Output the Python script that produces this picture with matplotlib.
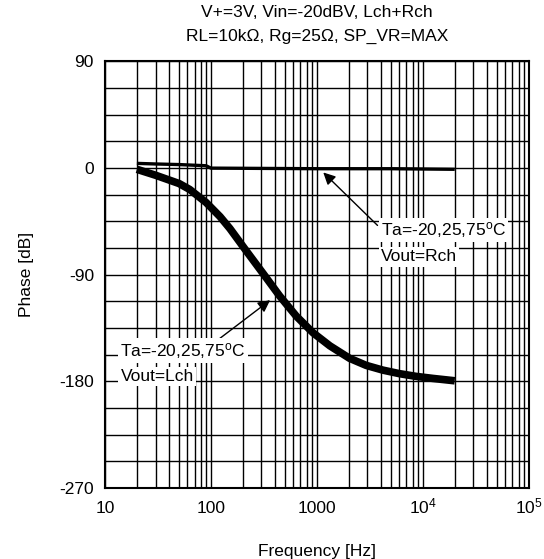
import matplotlib
matplotlib.use('Agg')
import matplotlib.pyplot as plt
import numpy as np
from matplotlib.ticker import FixedLocator, FixedFormatter, NullFormatter

plt.rcParams['font.family'] = ['Liberation Sans', 'DejaVu Sans']
plt.rcParams['mathtext.fontset'] = 'custom'
plt.rcParams['mathtext.rm'] = 'Liberation Sans'
plt.rcParams['mathtext.it'] = 'Liberation Sans'
plt.rcParams['axes.unicode_minus'] = False

# Lch phase (thick band, all three temperatures overlap)
f_lch = [20, 30, 50, 63, 90, 122, 151, 216, 311, 446, 640, 920, 1326,
         2033, 2920, 4196, 6030, 8664, 12450, 20000]
ph_lch = [-1, -6, -13, -18, -29, -41, -51, -70, -89, -108, -125, -139, -150,
          -160.5, -166.5, -170.5, -173.5, -175.8, -177.5, -179.5]

# Rch phase
f_rch = [20, 30, 50, 90, 100, 1000, 5000, 20000]
ph_rch = [4, 3.5, 3, 2, 0, -0.5, -0.5, -1]

x_ticks = [10, 100, 1000, 1e4, 1e5]
x_labels = ['10', '100', '1000', '$10^4$', '$10^5$']
y_ticks = [90, 0, -90, -180, -270]

fig = plt.figure(figsize=(5.44, 5.59), dpi=100)
ax = fig.add_axes([0.193, 0.127, 0.779, 0.763])

ax.plot(f_rch, ph_rch, color='black', linewidth=2.4, solid_capstyle='butt')
ax.plot(f_lch, ph_lch, color='black', linewidth=5.5, solid_capstyle='butt',
        solid_joinstyle='round')

ax.set_xscale('log')
ax.set_xlim(10, 1e5)
ax.set_ylim(-270, 90)

ax.xaxis.set_major_locator(FixedLocator(x_ticks))
ax.xaxis.set_major_formatter(FixedFormatter(x_labels))
minors = [m * 10 ** d for d in range(1, 5) for m in range(2, 10)]
ax.xaxis.set_minor_locator(FixedLocator(minors))
ax.xaxis.set_minor_formatter(NullFormatter())
ax.set_yticks(y_ticks)
ax.set_yticks(np.arange(-270, 91, 22.5), minor=True)

ax.grid(True, which='both', color='black', linewidth=1.0)
ax.set_axisbelow(True)
ax.tick_params(which='both', length=0, labelsize=12.5, pad=8)
ax.tick_params(axis='x', pad=18)
for lbl in ax.get_xticklabels():
    lbl.set_verticalalignment('baseline')
for s in ax.spines.values():
    s.set_linewidth(1.5)

ax.set_xlabel('Frequency [Hz]', fontsize=12.5, labelpad=20)
ax.set_ylabel('Phase [dB]', fontsize=12.5, labelpad=18)

fig.text(0.583, 0.978, 'V+=3V, Vin=-20dBV, Lch+Rch', ha='center', va='center', fontsize=12.5)
fig.text(0.583, 0.935, 'RL=10k\u03a9, Rg=25\u03a9, SP_VR=MAX', ha='center', va='center', fontsize=12.5)

box = dict(facecolor='white', edgecolor='none', pad=1.5)
arrow = dict(arrowstyle='-|>', color='black', linewidth=1.0, mutation_scale=18)

# Rch label
ax.annotate('', xy=(1100, -2), xytext=(3900, -50), arrowprops=arrow)
ax.text(4000, -52, 'Ta=-20,25,75$^{\\rm o}$C', fontsize=12.5, ha='left', va='center', bbox=box)
ax.text(4000, -75, 'Vout=Rch', fontsize=12.5, ha='left', va='center', bbox=box)

# Lch label
ax.annotate('', xy=(380, -110), xytext=(105, -148), arrowprops=arrow)
ax.text(14.0, -154, 'Ta=-20,25,75$^{\\rm o}$C', fontsize=12.5, ha='left', va='center', bbox=box)
ax.text(14.0, -176, 'Vout=Lch', fontsize=12.5, ha='left', va='center', bbox=box)

fig.savefig('out.png', dpi=100)
